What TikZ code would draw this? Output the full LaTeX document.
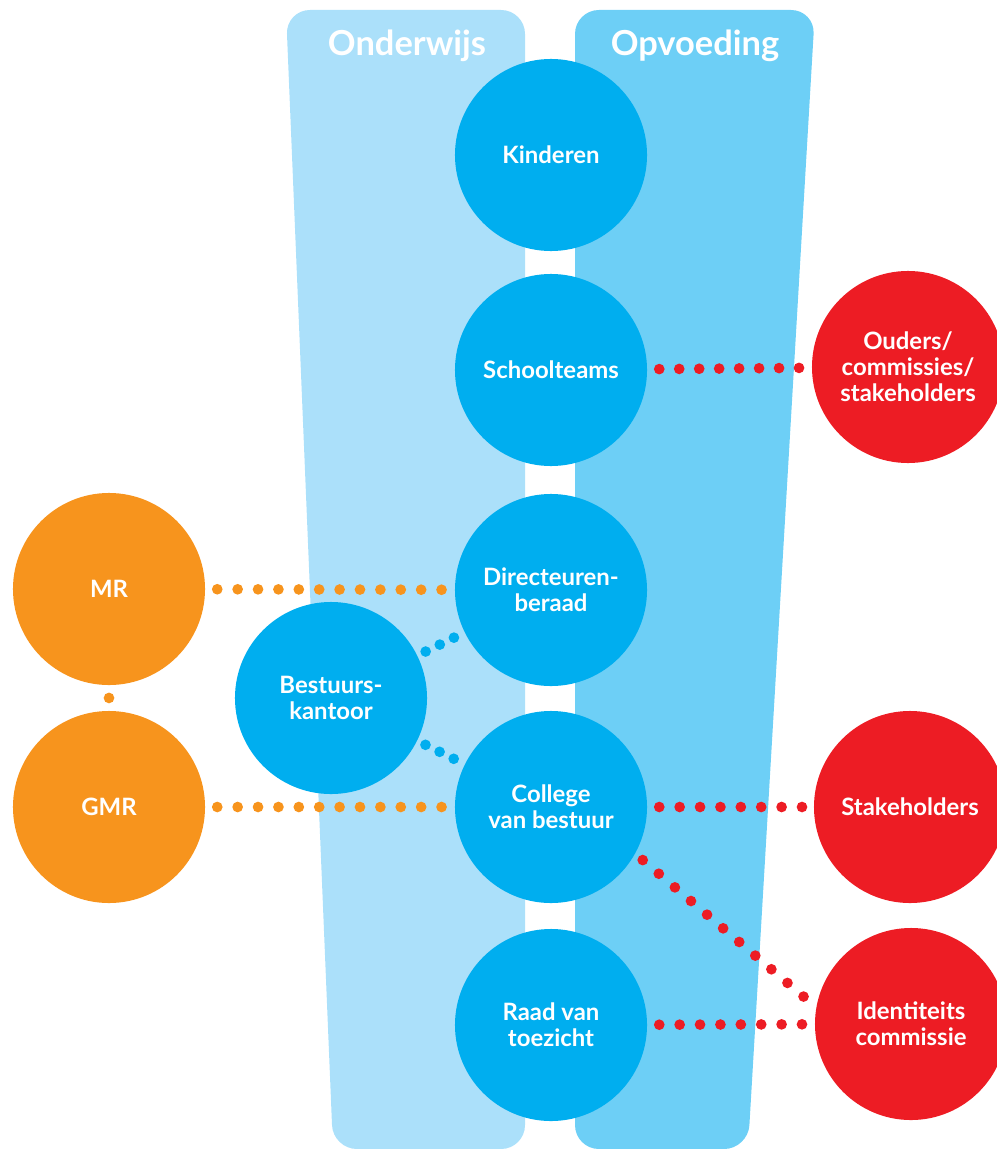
\documentclass[tikz,border=0pt]{standalone}
\usepackage{fontspec}
\setmainfont{Lato}
\definecolor{kolomlicht}{HTML}{ABE0FA}
\definecolor{kolomdonker}{HTML}{6DCFF6}
\definecolor{blauw}{HTML}{00AEEF}
\definecolor{oranje}{HTML}{F7941D}
\definecolor{rood}{HTML}{ED1C24}
\begin{document}
\begin{tikzpicture}[x=0.025cm, y=-0.025cm,
		bol/.style={circle, minimum size=4.8cm, inner sep=0pt, align=center, text=white, font=\bfseries\fontsize{17}{18.5}\selectfont},
		bolblauw/.style={bol, fill=blauw},
		boloranje/.style={bol, fill=oranje},
		bolrood/.style={bol, fill=rood},
		kop/.style={text=white, font=\bfseries\fontsize{24.5}{27}\selectfont},
		stippel/.style={line width=7.6pt, line cap=round, dash pattern=on 0pt off 14.5pt, shorten <=8.5pt, shorten >=5pt}]
		\useasboundingbox (0,0) rectangle (997,1149);
		\fill[kolomlicht, rounded corners=17pt] (286,10) -- (525,10) -- (525,1149) -- (333,1149) -- cycle;
		\fill[kolomdonker, rounded corners=17pt] (575,10) -- (815,10) -- (748,1149) -- (575,1149) -- cycle;
		\node[kop] (onderwijs) at (407,46) {Onderwijs};
		\node[kop] (opvoeding) at (695,46) {Opvoeding};
		\node[bolblauw] (kinderen) at (551,155) {Kinderen};
		\node[bolblauw] (schoolteams) at (551,370) {Schoolteams};
		\node[bolblauw] (directeuren) at (551,590) {Directeuren-\\beraad};
		\node[bolblauw] (college) at (551,807) {College\\van bestuur};
		\node[bolblauw] (raad) at (551,1025) {Raad van\\toezicht};
		\node[bolblauw] (bestuur) at (331,698) {Bestuurs-\\kantoor};
		\node[boloranje] (mr) at (109,589) {MR};
		\node[boloranje] (gmr) at (109,807) {GMR};
		\node[bolrood] (ouders) at (908,367) {Ouders/\\commissies/\\stakeholders};
		\node[bolrood] (stakeholders) at (910,807) {Stakeholders};
		\node[bolrood] (identiteit) at (911,1024) {Identiteits\\commissie};
		\draw[stippel, rood, dash pattern=on 0pt off 14.2pt, shorten >=3pt] (schoolteams) -- (ouders);
		\draw[stippel, rood] (college) -- (stakeholders);
		\draw[stippel, rood] (raad) -- (identiteit);
		\draw[stippel, rood, dash pattern=on 0pt off 15pt, shorten <=7pt, shorten >=10pt] (college.-29) -- (identiteit.170);
		\draw[stippel, oranje, shorten >=7pt] (mr) -- (directeuren);
		\draw[stippel, oranje, shorten >=7pt] (gmr) -- (college);
		\draw[stippel, oranje, dash pattern=on 0pt off 30pt, shorten <=9pt, shorten >=9pt] (mr) -- (gmr);
		\draw[stippel, blauw, dash pattern=on 0pt off 11.2pt, shorten <=6.5pt, shorten >=6.5pt] (bestuur) -- (directeuren);
		\draw[stippel, blauw, dash pattern=on 0pt off 11.2pt, shorten <=6.5pt, shorten >=6.5pt] (bestuur) -- (college);
\end{tikzpicture}
\end{document}
